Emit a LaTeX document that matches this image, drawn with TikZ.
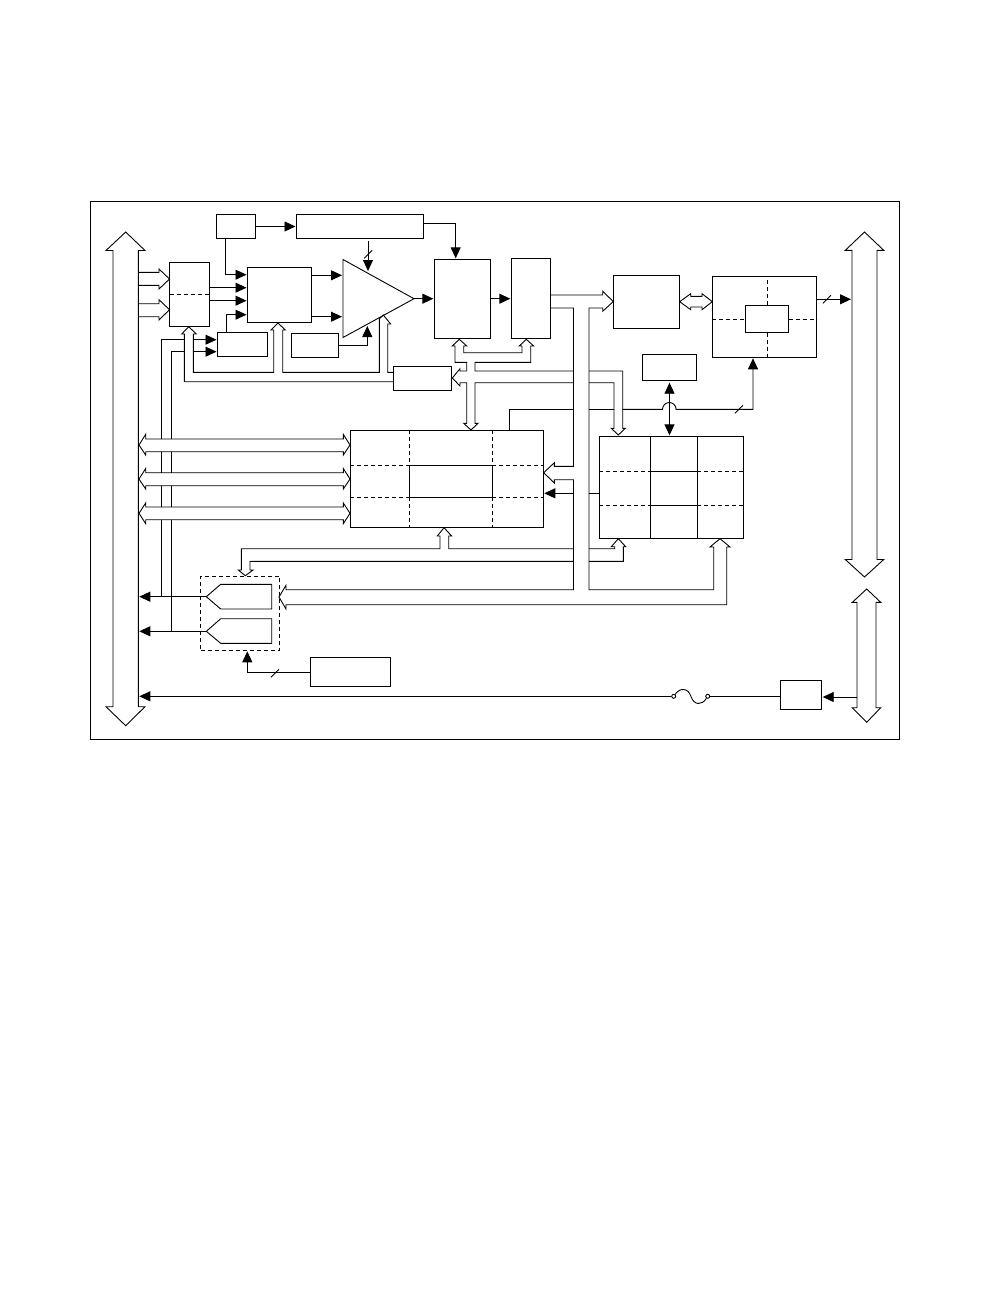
\documentclass[tikz,border=0pt]{standalone}
\usetikzlibrary{arrows.meta}
\tikzset{
  blk/.style={draw,inner sep=0pt,outer sep=0pt},
  sig/.style={-{Triangle[length=11pt,width=10pt]},shorten >=1pt},
  dbl/.style={{Triangle[length=11pt,width=10pt]}-{Triangle[length=11pt,width=10pt]},shorten >=1pt,shorten <=2pt},
  dashln/.style={dash pattern=on 4pt off 3pt},
  hol/.style={line join=miter},
  term/.style={draw,circle,fill=white,inner sep=0pt,minimum size=4pt}
}
\newcommand{\blkat}[5]{\node[blk,minimum width={(#4-#2)*1pt},minimum height={(#5-#3)*1pt}] (#1) at ({(#2+#4)/2},{(#3+#5)/2}) {};}
\newcommand{\tickat}[2]{\draw ({#1-4},{#2+4}) -- ({#1+4},{#2-4});}
\begin{document}
\begin{tikzpicture}[x=1pt,y=-1pt,line width=.9pt]
\useasboundingbox (0,0) rectangle (1008,1296);
\blkat{frame}{90.5}{201}{899.5}{739.5}
% blocks
\blkat{osc}{216.5}{214.5}{255.5}{238.5}
\blkat{tim}{296.5}{214.5}{423.5}{238.5}
\blkat{mux}{169.5}{262.5}{209.5}{326.5}
\blkat{pre}{247.5}{267.5}{311.5}{322.5}
\blkat{aux}{217.5}{332.5}{267.5}{356.5}
\blkat{ref}{291.5}{333.5}{338.5}{357.5}
\blkat{ctl}{393.5}{366.5}{451.5}{390.5}
\blkat{adc}{434.3}{259.3}{490.7}{338.7}
\blkat{fifo}{511.3}{258.3}{550.7}{338.7}
\blkat{dsp}{613.3}{275.3}{679.7}{328.7}
\blkat{iface}{712.3}{276.3}{816.7}{357.3}
\blkat{core}{745.3}{305.3}{788.7}{332.7}
\blkat{eep}{642.3}{354.3}{696.7}{380.7}
\blkat{mid}{350.3}{430.3}{543.3}{527.3}
\blkat{tbl}{599.3}{436.3}{743.7}{538.3}
\blkat{dac}{310.3}{657.3}{390.7}{686.7}
\blkat{reg}{780.3}{680.3}{821.7}{709.3}
\node[blk,dashln,minimum width=79pt,minimum height=74pt] (bufs) at (240.2,613.3) {};
\coordinate (lbusR) at (138.3,0);
\coordinate (rbusL) at (852,0);
\coordinate (pbusL) at (857,0);
\coordinate (railA) at (573.5,0);
\coordinate (railB) at (589,0);
\coordinate (clA) at (161.7,0);
\coordinate (clB) at (171.7,0);
\coordinate (ampA) at (343,259.5);
\coordinate (ampO) at (414,298.7);
\coordinate (ampB) at (343,337.5);
\coordinate (ampG) at (368,272);
\coordinate (ampH) at (367.3,325);
\coordinate (timG) at (368,241);
\coordinate (buf1) at (206.3,596.7);
\coordinate (buf2) at (206.3,631.3);
\coordinate (midT) at (509.3,430.3);
\coordinate (midA) at (409.3,465.3);
\coordinate (midB) at (492.3,465.3);
\coordinate (midC) at (409.3,497.3);
\coordinate (midD) at (492.3,497.3);
\coordinate (tblA) at (650.3,471.3);
\coordinate (tblB) at (697.3,471.3);
\coordinate (tblC) at (650.3,505.3);
\coordinate (tblD) at (697.3,505.3);
% amplifier and buffers
\draw[line join=miter] (ampA) -- (ampO) -- (ampB) -- cycle;
\draw (buf1) -- (220.7,584.3) -- (271.7,584.3) -- (271.7,609) -- (220.7,609) -- cycle;
\draw (buf2) -- (220.7,618.7) -- (271.7,618.7) -- (271.7,643.3) -- (220.7,643.3) -- cycle;
% dashes inside the blocks
\draw[dashln] (mux.west) -- (mux.east);
\draw[dashln] (iface.west |- core.west) -- (core.west);
\draw[dashln] (core.east) -- (iface.east |- core.east);
\draw[dashln] (core.north) -- (core.north |- iface.north);
\draw[dashln] (core.south) -- (core.south |- iface.south);
\draw[dashln] (mid.west |- midA) -- (midA);
\draw[dashln] (midB) -- (mid.east |- midB);
\draw[dashln] (mid.west |- midC) -- (midC);
\draw[dashln] (midD) -- (mid.east |- midD);
\draw[dashln] (midA |- mid.north) -- (midA);
\draw[dashln] (midB |- mid.north) -- (midB);
\draw[dashln] (midC) -- (midC |- mid.south);
\draw[dashln] (midD) -- (midD |- mid.south);
\draw (midA) -- (midB) -- (midD) -- (midC) -- cycle;
\draw[dashln] (tbl.west |- tblA) -- (tblA);
\draw[dashln] (tblB) -- (tbl.east |- tblB);
\draw[dashln] (tbl.west |- tblC) -- (tblC);
\draw[dashln] (tblD) -- (tbl.east |- tblD);
\draw (tblA |- tbl.north) -- (tblA |- tbl.south);
\draw (tblB |- tbl.north) -- (tblB |- tbl.south);
\draw (tblA) -- (tblB);
\draw (tblC) -- (tblD);
% wide buses
\draw[hol] (113,250.5) -- (106,250.5) -- (125.7,232) -- (145,250.5) -- (138.3,250.5) -- (138.3,706.7) -- (145,706.7) -- (125.7,725.7) -- (106,706.7) -- (113,706.7) -- cycle;
\draw[hol] (852,250.3) -- (845.3,250.3) -- (864.5,232) -- (883.7,250.3) -- (877,250.3) -- (877,559.5) -- (883.7,559.5) -- (864.5,577) -- (845.3,559.5) -- (852,559.5) -- cycle;
\draw[hol] (857,602.3) -- (852.3,602.3) -- (866.7,589) -- (880.7,602.3) -- (876,602.3) -- (876,707.7) -- (880.7,707.7) -- (866.7,722.3) -- (852.3,707.7) -- (857,707.7) -- cycle;
\draw[hol] (145.7,439) -- (343.3,439) -- (343.3,434.3) -- (350,445) -- (343.3,455) -- (343.3,451.7) -- (145.7,451.7) -- (145.7,455) -- (139,445) -- (145.7,434.3) -- cycle;
\draw[hol] (145.7,472.7) -- (343.3,472.7) -- (343.3,468.5) -- (350,479) -- (343.3,489) -- (343.3,485.7) -- (145.7,485.7) -- (145.7,489) -- (139,479) -- (145.7,468.5) -- cycle;
\draw[hol] (145.7,507) -- (343.3,507) -- (343.3,503) -- (350,513.3) -- (343.3,523.7) -- (343.3,519.7) -- (145.7,519.7) -- (145.7,523.7) -- (139,513.3) -- (145.7,503) -- cycle;
\draw[hol] (690.7,296.3) -- (702,296.3) -- (702,293.7) -- (712.3,301.7) -- (702,309.7) -- (702,307) -- (690.7,307) -- (690.7,309.7) -- (679.7,301.7) -- (690.7,293.7) -- cycle;
% hollow connectors
\draw[hol] (lbusR |- 0,272.3) -- (159,272.3) -- (159,269) -- (mux.west |- 0,279) -- (159,289) -- (159,285.3) -- (lbusR |- 0,285.3);
\draw[hol] (lbusR |- 0,303.7) -- (159,303.7) -- (159,299.7) -- (mux.west |- 0,309.7) -- (159,320) -- (159,316.7) -- (lbusR |- 0,316.7);
\draw[hol] (ctl.west |- 0,381.7) -- (184.3,381.7) -- (184.3,334) -- (181.7,334) -- (188.7,326.7) -- (196.3,334) -- (193.3,334) -- (193.3,372.3) -- (273.7,372.3) -- (273.7,330) -- (271,330) -- (278,323) -- (285.3,330) -- (282.7,330) -- (282.7,372.3) -- (379.3,372.3) -- (379.3,319) -- (383.3,315) -- (390.7,324) -- (387.7,324) -- (387.7,372.3) -- (ctl.west |- 0,372.3);
\draw[hol] (466.7,371) -- (466.7,362.3) -- (455,362.3) -- (455,346) -- (452.3,346) -- (459.3,339.3) -- (466.7,346) -- (463.7,346) -- (463.7,352.7) -- (522,352.7) -- (522,346) -- (519.3,346) -- (526.3,339.3) -- (533.7,346) -- (530.7,346) -- (530.7,362.3) -- (475,362.3) -- (475,371) -- (railA |- 0,371);
\draw[hol] (railB |- 0,371) -- (622.7,371) -- (622.7,428.3) -- (625.3,428.3) -- (618.3,435) -- (611.3,428.3) -- (614,428.3) -- (614,382.7) -- (railB |- 0,382.7);
\draw[hol] (railA |- 0,382.7) -- (475,382.7) -- (475,423.3) -- (478,423.3) -- (471,430) -- (463.7,423.3) -- (466.7,423.3) -- (466.7,382.7) -- (460,382.7) -- (460,386) -- (452.3,378) -- (460,368.7) -- (460,371) -- (466.7,371);
\draw[hol] (fifo.east |- 0,295) -- (602.7,295) -- (602.7,291.3) -- (613.3,301.5) -- (602.7,311.3) -- (602.7,308) -- (589,308) -- (589,589.7) -- (713.7,589.7) -- (713.7,547) -- (710,547) -- (720,538.7) -- (730,547) -- (726.7,547) -- (726.7,604.7) -- (286,604.7) -- (286,609) -- (279,597) -- (286,585.3) -- (286,589.7) -- (573.5,589.7) -- (573.5,479.7) -- (554.3,479.7) -- (554.3,483) -- (543.7,472.7) -- (554.3,462.7) -- (554.3,466.3) -- (573.5,466.3) -- (573.5,308) -- (fifo.east |- 0,308);
\draw[hol] (railB |- 0,548.7) -- (614.7,548.7) -- (614.7,546.7) -- (611.3,546.7) -- (618.3,538.7) -- (625.7,546.7) -- (623.3,546.7) -- (623.3,561.3) -- (railB |- 0,561.3);
\draw[hol] (railA |- 0,548.7) -- (448.7,548.7) -- (448.7,536) -- (451.7,536) -- (444,527.7) -- (437.3,536) -- (440,536) -- (440,548.7) -- (241.3,548.7) -- (241.3,570) -- (238.3,570) -- (245.3,575.7) -- (253,570) -- (250,570) -- (250,561.3) -- (railA |- 0,561.3);
% signal lines
\draw[sig] (osc.east) -- (tim.west);
\draw[sig] ([xshift=9.2pt]osc.south west) |- (pre.west |- 0,274.7);
\draw[sig] (mux.east |- 0,287.7) -- (pre.west |- 0,287.7);
\draw[sig] (mux.east |- 0,300.7) -- (pre.west |- 0,300.7);
\draw[sig] ([xshift=9.2pt]aux.north west) |- (pre.west |- 0,314.7);
\draw[sig] (pre.east |- 0,275.3) -- (ampA |- 0,275.3);
\draw[sig] (pre.east |- 0,316.7) -- (ampA |- 0,316.7);
\draw[sig] (timG) -- (ampG);
\tickat{368.3}{254.3}
\draw[sig] (ref.east) -| (ampH);
\draw[sig] (ampO) -- (adc.west |- ampO);
\draw[sig] (tim.east |- 0,223.7) -| ([xshift=-6.8pt]adc.north);
\draw[sig] (adc.east |- ampO) -- (fifo.west |- ampO);
\draw[sig] (iface.east |- 0,299.3) -- (rbusL |- 0,299.3);
\tickat{827}{299.3}
\draw (midT) |- (railA |- 0,409.3);
\draw (railB |- 0,409.3) -- (614,409.3);
\draw[sig] (622.7,409.3) -- (662.5,409.3) arc[start angle=180,end angle=0,radius=6.8pt] -| ([xshift=-11.5pt]iface.south);
\tickat{739}{409.3}
\draw[dbl] (eep.south) -- (eep.south |- tbl.north);
\draw[sig] (railA |- 0,493.3) -- (mid.east |- 0,493.3);
\draw (tbl.west |- 0,493.3) -- (railB |- 0,493.3);
% lines from the left bus region
\draw (clA |- 0,439) -- (clA |- 0,339.7) -- (184.3,339.7);
\draw[sig] (193.3,339.7) -- (aux.west |- 0,339.7);
\draw (clB |- 0,439) -- (clB |- 0,351.7) -- (184.3,351.7);
\draw[sig] (193.3,351.7) -- (aux.west |- 0,351.7);
\draw (clA |- 0,451.7) -- (clA |- 0,472.7);
\draw (clA |- 0,485.7) -- (clA |- 0,507);
\draw (clA |- 0,519.7) -- (clA |- buf1);
\draw (clB |- 0,451.7) -- (clB |- 0,472.7);
\draw (clB |- 0,485.7) -- (clB |- 0,507);
\draw (clB |- 0,519.7) -- (clB |- buf2);
\draw[sig] (buf1) -- (lbusR |- buf1);
\draw[sig] (buf2) -- (lbusR |- buf2);
\draw[sig] (dac.west) -| ([xshift=7.1pt]bufs.south);
\tickat{275}{673.3}
% power path
\node[term] (fuseL) at (673.7,696.3) {};
\node[term] (fuseR) at (707.7,696.3) {};
\draw (fuseL) .. controls (680,687.5) and (688,687.5) .. (691,696.5) .. controls (694,705.5) and (702,705.5) .. (fuseR);
\draw[sig] (fuseL) -- (lbusR |- fuseL);
\draw (reg.west |- fuseR) -- (fuseR);
\draw[sig] (pbusL |- 0,697) -- (reg.east |- 0,697);
\end{tikzpicture}
\end{document}
